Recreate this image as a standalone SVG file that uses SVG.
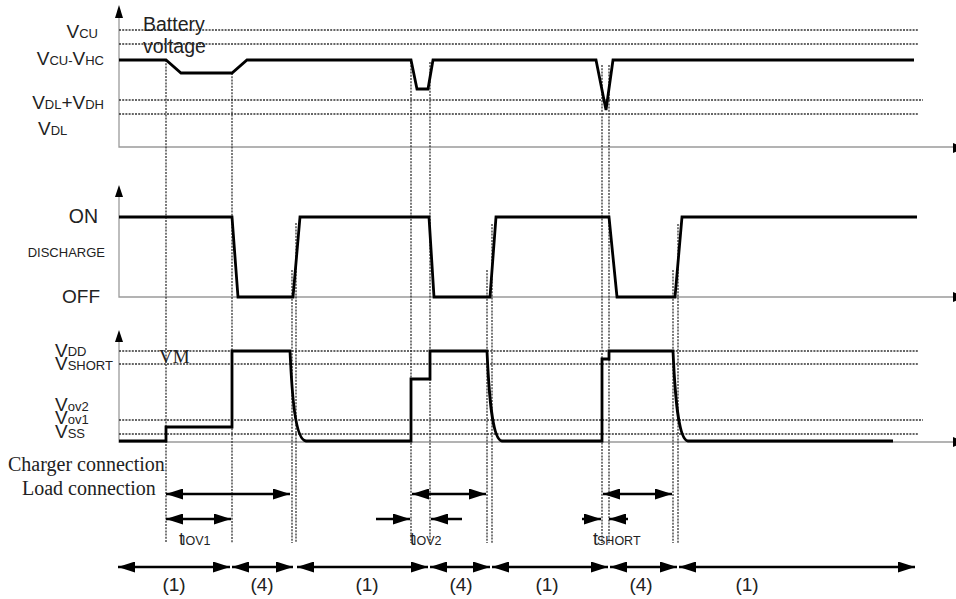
<svg xmlns="http://www.w3.org/2000/svg" width="956" height="599" viewBox="0 0 956 599">
<style>
.ax{stroke:#9a9a9a;stroke-width:1.3;fill:none}
.dl{stroke:#333;stroke-width:1.3;stroke-dasharray:2 1.2;fill:none}
.vl{stroke:#333;stroke-width:1.3;stroke-dasharray:2 1.2;fill:none}
.wf{stroke:#000;stroke-width:2.8;fill:none;stroke-linejoin:miter}
.ar{stroke:#000;stroke-width:2.5;fill:none}
.s{font-family:"Liberation Sans",Arial,sans-serif;fill:#222}
.r{font-family:"Liberation Serif","Times New Roman",serif;fill:#222}
</style>
<defs>
<marker id="ah" viewBox="0 0 17 11" refX="17" refY="5.5" markerWidth="17" markerHeight="11" markerUnits="userSpaceOnUse" orient="auto-start-reverse">
<path d="M0,0 L17,5.5 L0,11 z" fill="#000"/>
</marker>
</defs>
<rect width="956" height="599" fill="#fff"/>

<g id="axes">
<path class="ax" d="M119,17 V147 H956"/>
<path d="M119,5 L115,18 L123,18 z" fill="#000"/>
<path class="ax" d="M119,197 V297 H956"/>
<path d="M119,185 L115,197 L123,197 z" fill="#000"/>
<path class="ax" d="M119,342 V442 H956"/>
<path d="M119,330 L115,342 L123,342 z" fill="#000"/>
<path d="M953,143 L966,148 L953,153 z" fill="#000"/>
<path d="M953,292 L966,297 L953,302 z" fill="#000"/>
<path d="M953,437 L966,442 L953,447 z" fill="#000"/>
</g>

<g id="levels">
<path class="dl" d="M119,30 H918 M119,44 H918 M119,100 H923 M119,114 H918"/>
<path class="dl" d="M119,351 H918 M119,364 H918 M119,420 H923 M119,434 H918"/>
</g>

<g id="markers">
<path class="vl" d="M166,60 V543 M232,73 V543"/>
<path class="vl" d="M411,62 V543 M430,62 V543"/>
<path class="vl" d="M602,65 V543 M609,65 V543"/>
<path class="vl" d="M292,270 V543 M296,223 V543"/>
<path class="vl" d="M487,270 V543 M492,224 V543"/>
<path class="vl" d="M673,270 V543 M678,224 V543"/>
</g>

<g id="battery-voltage">
<path class="wf" d="M119,60 H166 L181,73 H232 L247,60 H411 L417,89 H428 L433,60 H596 L606,110 L613,60 H914"/>
<text class="s" x="143" y="31" font-size="19.5">Battery</text>
<text class="s" x="143" y="53" font-size="19.5">voltage</text>
</g>

<g id="discharge">
<path class="wf" d="M119,217 H232 L238,297 H293 L300,217 H429 L434,297 H490 L496,217 H609 L617,297 H675 L682,217 H917"/>
</g>

<g id="vm">
<path class="wf" d="M119,441 H166 V427 H232 V351 H290 C292,395 295,440 306,441 H411 V379 H430 V351 H487 C489,395 492,440 502,441 H602 V359 H609 V351 H673 C675,395 678,440 688,441 H893"/>
<text class="r" x="159" y="363" font-size="19">VM</text>
</g>

<g id="labels-top">
<text class="s" x="98" y="38" text-anchor="end" font-size="19">V<tspan font-size="13">CU</tspan></text>
<text class="s" x="104" y="65" text-anchor="end" font-size="19">V<tspan font-size="13">CU-</tspan>V<tspan font-size="13">HC</tspan></text>
<text class="s" x="104" y="109" text-anchor="end" font-size="19">V<tspan font-size="13">DL</tspan>+V<tspan font-size="13">DH</tspan></text>
<text class="s" x="38" y="135" font-size="19">V<tspan font-size="13">DL</tspan></text>
</g>

<g id="labels-mid">
<text class="s" x="98" y="223" text-anchor="end" font-size="19.5">ON</text>
<text class="s" x="105" y="257" text-anchor="end" font-size="13">DISCHARGE</text>
<text class="s" x="100" y="303" text-anchor="end" font-size="19">OFF</text>
</g>

<g id="labels-vm">
<text class="s" x="55" y="357" font-size="19">V<tspan font-size="13" dy="-1">DD</tspan></text>
<text class="s" x="55" y="370" font-size="19">V<tspan font-size="13">SHORT</tspan></text>
<text class="s" x="55" y="411" font-size="19">V<tspan font-size="13">ov2</tspan></text>
<text class="s" x="55" y="424" font-size="19">V<tspan font-size="13">ov1</tspan></text>
<text class="s" x="55" y="438" font-size="19">V<tspan font-size="13">SS</tspan></text>
</g>

<g id="connection-labels">
<text class="r" x="8" y="471" font-size="20">Charger connection</text>
<text class="r" x="22" y="495" font-size="20">Load connection</text>
</g>

<g id="connectors">
<line class="ar" x1="166" y1="494" x2="290" y2="494" marker-start="url(#ah)" marker-end="url(#ah)"/>
<line class="ar" x1="166" y1="519" x2="231" y2="519" marker-start="url(#ah)" marker-end="url(#ah)"/>
<line class="ar" x1="412" y1="494" x2="486" y2="494" marker-start="url(#ah)" marker-end="url(#ah)"/>
<line class="ar" x1="376" y1="519" x2="410" y2="519" marker-end="url(#ah)"/>
<line class="ar" x1="462" y1="519" x2="431" y2="519" marker-end="url(#ah)"/>
<line class="ar" x1="603" y1="494" x2="672" y2="494" marker-start="url(#ah)" marker-end="url(#ah)"/>
<line class="ar" x1="582" y1="519" x2="601" y2="519" marker-end="url(#ah)"/>
<line class="ar" x1="628" y1="519" x2="609" y2="519" marker-end="url(#ah)"/>
<line class="ar" x1="118" y1="567" x2="230" y2="567" marker-start="url(#ah)" marker-end="url(#ah)"/>
<line class="ar" x1="232" y1="567" x2="293" y2="567" marker-start="url(#ah)" marker-end="url(#ah)"/>
<line class="ar" x1="297" y1="567" x2="428" y2="567" marker-start="url(#ah)" marker-end="url(#ah)"/>
<line class="ar" x1="430" y1="567" x2="490" y2="567" marker-start="url(#ah)" marker-end="url(#ah)"/>
<line class="ar" x1="492" y1="567" x2="608" y2="567" marker-start="url(#ah)" marker-end="url(#ah)"/>
<line class="ar" x1="610" y1="567" x2="677" y2="567" marker-start="url(#ah)" marker-end="url(#ah)"/>
<line class="ar" x1="679" y1="567" x2="915" y2="567" marker-start="url(#ah)" marker-end="url(#ah)"/>
</g>

<g id="time-labels">
<text class="s" x="179" y="545" font-size="18">t<tspan font-size="12.5" dx="-2">IOV1</tspan></text>
<text class="s" x="410" y="545" font-size="18">t<tspan font-size="12.5" dx="-2">IOV2</tspan></text>
<text class="s" x="593" y="545" font-size="18">t<tspan font-size="12.5" dx="-1">SHORT</tspan></text>
</g>

<g id="phase-labels">
<text class="s" x="174" y="591" font-size="19" text-anchor="middle">(1)</text>
<text class="s" x="262" y="591" font-size="19" text-anchor="middle">(4)</text>
<text class="s" x="367" y="591" font-size="19" text-anchor="middle">(1)</text>
<text class="s" x="461" y="591" font-size="19" text-anchor="middle">(4)</text>
<text class="s" x="547" y="591" font-size="19" text-anchor="middle">(1)</text>
<text class="s" x="641" y="591" font-size="19" text-anchor="middle">(4)</text>
<text class="s" x="747" y="591" font-size="19" text-anchor="middle">(1)</text>
</g>
</svg>
